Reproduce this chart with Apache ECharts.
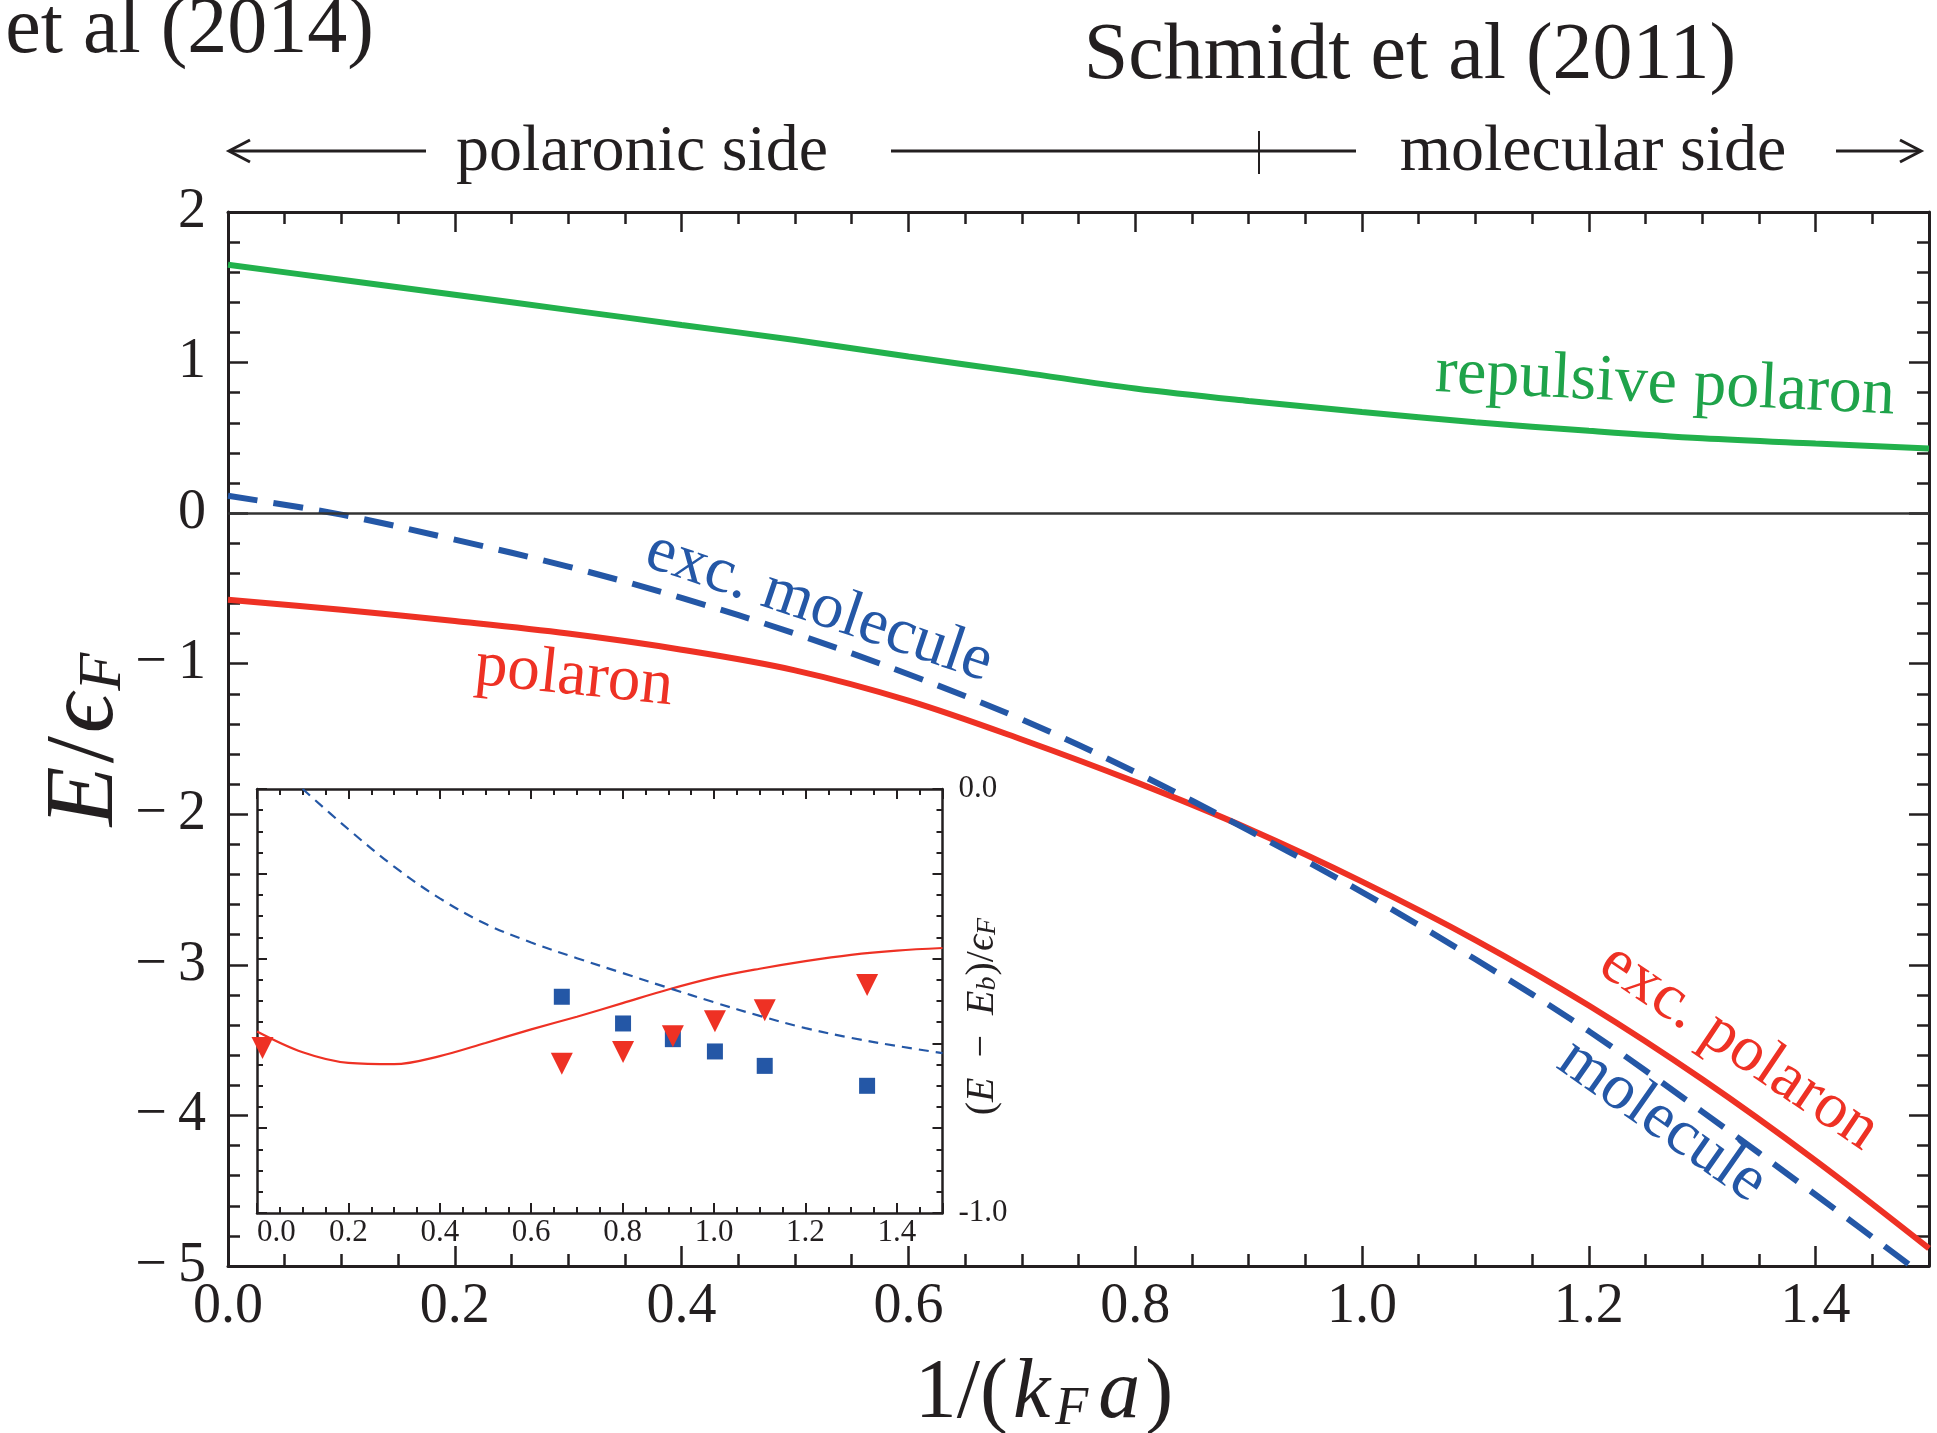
<!DOCTYPE html>
<html>
<head>
<meta charset="utf-8">
<script src="https://cdn.jsdelivr.net/npm/echarts@6/dist/echarts.min.js"></script>
<style>
html,body{margin:0;padding:0;background:#fff;}
#chart{width:1937px;height:1433px;}
</style>
</head>
<body>
<div id="chart"></div>
<script>
// ---------- data ----------
const X_MAIN = [0, 0.1, 0.2, 0.3, 0.4, 0.5, 0.6, 0.7, 0.8, 0.9, 1.0, 1.1, 1.2, 1.3, 1.4, 1.5];
const REPULSIVE_POLARON = [1.65, 1.55, 1.45, 1.35, 1.25, 1.15, 1.04, 0.935, 0.828, 0.745, 0.672, 0.604, 0.547, 0.497, 0.462, 0.43];
const POLARON = [-0.575, -0.642, -0.717, -0.80, -0.907, -1.044, -1.245, -1.503, -1.785, -2.096, -2.447, -2.835, -3.27, -3.76, -4.30, -4.883];
const MOLECULE = [0.115, -0.01, -0.176, -0.355, -0.563, -0.80, -1.07, -1.37, -1.72, -2.107, -2.517, -2.963, -3.44, -3.975, -4.527, -5.09];

const X_INSET = [0, 0.1, 0.2, 0.3, 0.4, 0.5, 0.6, 0.7, 0.8, 0.9, 1.0, 1.1, 1.2, 1.3, 1.4, 1.5];
const INSET_POLARON = [-0.572, -0.621, -0.646, -0.649, -0.630, -0.599, -0.567, -0.537, -0.505, -0.473, -0.445, -0.424, -0.406, -0.391, -0.381, -0.375];
const X_INSET_MOL = [0.1, 0.2, 0.3, 0.4, 0.5, 0.6, 0.7, 0.8, 0.9, 1.0, 1.1, 1.2, 1.3, 1.4, 1.5];
const INSET_MOLECULE = [0.0, -0.095, -0.183, -0.258, -0.318, -0.362, -0.399, -0.434, -0.469, -0.503, -0.535, -0.564, -0.587, -0.606, -0.623];

const SQUARE_X = [0.667, 0.801, 0.910, 1.002, 1.111, 1.335];
const SQUARE_Y = [-0.490, -0.553, -0.590, -0.619, -0.653, -0.700];
const TRIANGLE_X = [0.012, 0.667, 0.801, 0.910, 1.002, 1.111, 1.335];
const TRIANGLE_Y = [-0.611, -0.648, -0.620, -0.583, -0.548, -0.522, -0.462];

const MAIN_X_TICKS = ['0.0', '0.2', '0.4', '0.6', '0.8', '1.0', '1.2', '1.4'];
const INSET_Y_TICKS = ['0.0', '-1.0'];

// ---------- styling ----------
const FONT = "'Liberation Serif', 'Times New Roman', 'DejaVu Serif', serif";
const INK = '#231f20';
const RED = '#ee3124';
const BLUE = '#2457a6';
const GREEN = '#22b14c';
const GREEN_TXT = '#1fa34a';

const zip = (xs, ys) => xs.map((x, i) => [x, ys[i]]);

function mkAxis(o) {
  const a = {
    type: 'value', gridIndex: o.grid, position: o.pos,
    min: o.min, max: o.max, interval: o.interval,
    axisLine: { show: o.line !== false, onZero: false, lineStyle: { color: INK, width: o.lw || 3 } },
    axisTick: { show: true, inside: true, length: o.tick, lineStyle: { color: INK, width: o.tw || 2.5 } },
    axisLabel: { show: false },
    splitLine: { show: false },
    minorTick: { show: false }
  };
  if (o.label) {
    a.axisLabel = {
      show: true, margin: o.margin, fontFamily: FONT, fontSize: o.fs, color: INK,
      formatter: o.formatter, alignMinLabel: o.alignMin
    };
  }
  return a;
}

const mainXFmt = v => { const s = v.toFixed(1); return MAIN_X_TICKS.indexOf(s) >= 0 ? s : ''; };
const mainYFmt = v => v < 0 ? '\u2212\u2009' + Math.round(-v) : String(Math.round(v));
const insetXFmt = v => { const s = v.toFixed(1); return MAIN_X_TICKS.indexOf(s) >= 0 ? s : ''; };
const insetYFmt = v => { const s = v.toFixed(1); return INSET_Y_TICKS.indexOf(s) >= 0 ? s : ''; };

const xAxis = [
  mkAxis({ grid: 0, pos: 'bottom', min: 0, max: 1.5, interval: 0.2, tick: 20, label: true, margin: 13, fs: 56, formatter: mainXFmt }),
  mkAxis({ grid: 0, pos: 'bottom', min: 0, max: 1.5, interval: 0.05, tick: 12, line: false }),
  mkAxis({ grid: 0, pos: 'top', min: 0, max: 1.5, interval: 0.2, tick: 20 }),
  mkAxis({ grid: 0, pos: 'top', min: 0, max: 1.5, interval: 0.05, tick: 12, line: false }),
  mkAxis({ grid: 1, pos: 'bottom', min: 0, max: 1.5, interval: 0.2, tick: 10, lw: 2.5, tw: 2, label: true, margin: 4, fs: 31, formatter: insetXFmt, alignMin: 'left' }),
  mkAxis({ grid: 1, pos: 'bottom', min: 0, max: 1.5, interval: 0.05, tick: 6, tw: 2, line: false }),
  mkAxis({ grid: 1, pos: 'top', min: 0, max: 1.5, interval: 0.2, tick: 10, lw: 2.5, tw: 2 }),
  mkAxis({ grid: 1, pos: 'top', min: 0, max: 1.5, interval: 0.05, tick: 6, tw: 2, line: false })
];
const yAxis = [
  mkAxis({ grid: 0, pos: 'left', min: -5, max: 2, interval: 1, tick: 20, label: true, margin: 22, fs: 56, formatter: mainYFmt }),
  mkAxis({ grid: 0, pos: 'left', min: -5, max: 2, interval: 0.2, tick: 12, line: false }),
  mkAxis({ grid: 0, pos: 'right', min: -5, max: 2, interval: 1, tick: 20 }),
  mkAxis({ grid: 0, pos: 'right', min: -5, max: 2, interval: 0.2, tick: 12, line: false }),
  mkAxis({ grid: 1, pos: 'right', min: -1, max: 0, interval: 0.2, tick: 10, lw: 2.5, tw: 2, label: true, margin: 16, fs: 31, formatter: insetYFmt }),
  mkAxis({ grid: 1, pos: 'right', min: -1, max: 0, interval: 0.05, tick: 6, tw: 2, line: false }),
  mkAxis({ grid: 1, pos: 'left', min: -1, max: 0, interval: 0.2, tick: 10, lw: 2.5, tw: 2 }),
  mkAxis({ grid: 1, pos: 'left', min: -1, max: 0, interval: 0.05, tick: 6, tw: 2, line: false })
];

function label(text, x, y, deg, color, fs) {
  return { type: 'text', x: x, y: y, rotation: -deg * Math.PI / 180, z: 100,
    style: { text: text, fill: color, fontFamily: FONT, fontSize: fs, align: 'center', verticalAlign: 'middle' } };
}
function txt(text, x, y, fs, align) {
  return { type: 'text', x: x, y: y, z: 100,
    style: { text: text, fill: INK, fontFamily: FONT, fontSize: fs, align: align || 'center', verticalAlign: 'middle' } };
}
const lineG = (x1, y1, x2, y2, w) => ({ type: 'line', z: 100, shape: { x1, y1, x2, y2 }, style: { stroke: INK, lineWidth: w || 3 } });
const headG = pts => ({ type: 'polyline', z: 100, shape: { points: pts }, style: { stroke: INK, lineWidth: 3, fill: 'none' } });

function richStyles(fs, subFs, subLh, pad) {
  return {
    n: { fontFamily: FONT, fontSize: fs, lineHeight: fs, fill: INK },
    i: { fontFamily: FONT, fontSize: fs, lineHeight: fs, fontStyle: 'italic', fill: INK },
    ip: { fontFamily: FONT, fontSize: fs, lineHeight: fs, fontStyle: 'italic', fill: INK, padding: [0, pad, 0, pad] },
    np: { fontFamily: FONT, fontSize: fs, lineHeight: fs, fill: INK, padding: [0, 0, 0, pad] },
    s: { fontFamily: FONT, fontSize: subFs, lineHeight: subLh, fontStyle: 'italic', fill: INK, verticalAlign: 'bottom', padding: [0, pad, 0, 0] }
  };
}

const graphic = [
  txt('et al (2014)', 374, 31, 80, 'right'),
  txt('Schmidt et al (2011)', 1410, 57, 80, 'center'),
  lineG(231, 151, 426, 151), headG([[250, 140], [229, 151], [250, 162]]),
  txt('polaronic side', 642, 153, 66, 'center'),
  lineG(891, 151, 1356, 151), lineG(1259, 131, 1259, 174, 2),
  txt('molecular side', 1593, 153, 66, 'center'),
  lineG(1836, 151, 1919, 151), headG([[1900, 140], [1921, 151], [1900, 162]]),
  // axis titles
  { type: 'text', x: 1044, y: 1395, z: 100,
    style: { text: '{n|1/(}{ip|k}{s|F}{ip|a}{n|)}', align: 'center', verticalAlign: 'middle',
      rich: richStyles(84, 54, 42, 5) } },
  { type: 'text', x: 86, y: 738, rotation: Math.PI / 2, z: 100,
    style: { text: '{i|E}{np|/}{ip|\u03F5}{s|F}', align: 'center', verticalAlign: 'middle',
      rich: richStyles(98, 62, 48, 3) } },
  { type: 'text', x: 982, y: 1016, rotation: Math.PI / 2, z: 100,
    style: { text: '{n|(}{i|E}{n|\u2002\u2212\u2002}{i|E}{s|b}{n|)/}{i|\u03F5}{s|F}', align: 'center', verticalAlign: 'middle',
      rich: richStyles(40, 28, 20, 1) } },
  // curve labels
  label('repulsive polaron', 1665, 385, 2.8, GREEN_TXT, 66),
  label('exc. molecule', 819, 607, 18.7, BLUE, 65),
  label('polaron', 574, 677, 6, RED, 65),
  label('exc. polaron', 1739, 1047, 34, RED, 65),
  label('molecule', 1662, 1121, 35, BLUE, 65)
];

const lineCommon = { smooth: 0.35, showSymbol: false, symbol: 'none' };

const option = {
  animation: false,
  backgroundColor: '#fff',
  grid: [
    { left: 228, top: 212, width: 1701, height: 1054, outerBoundsMode: 'none' },
    { left: 257, top: 789, width: 685.5, height: 424, show: true, backgroundColor: '#fff', borderWidth: 0, outerBoundsMode: 'none' }
  ],
  xAxis: xAxis,
  yAxis: yAxis,
  graphic: graphic,
  series: [
    Object.assign({ type: 'line', name: 'repulsive polaron', xAxisIndex: 0, yAxisIndex: 0, data: zip(X_MAIN, REPULSIVE_POLARON),
      lineStyle: { color: GREEN, width: 6 },
      markLine: { silent: true, symbol: 'none', label: { show: false }, lineStyle: { color: '#333', width: 2.5, type: 'solid' }, data: [{ yAxis: 0 }] } }, lineCommon),
    Object.assign({ type: 'line', name: 'polaron', xAxisIndex: 0, yAxisIndex: 0, data: zip(X_MAIN, POLARON),
      lineStyle: { color: RED, width: 6 } }, lineCommon),
    Object.assign({ type: 'line', name: 'molecule', xAxisIndex: 0, yAxisIndex: 0, data: zip(X_MAIN, MOLECULE), clip: true,
      lineStyle: { color: BLUE, width: 6, type: [30, 16] } }, lineCommon),
    Object.assign({ type: 'line', name: 'inset polaron', xAxisIndex: 4, yAxisIndex: 4, data: zip(X_INSET, INSET_POLARON),
      lineStyle: { color: RED, width: 2.2 } }, lineCommon),
    Object.assign({ type: 'line', name: 'inset molecule', xAxisIndex: 4, yAxisIndex: 4, data: zip(X_INSET_MOL, INSET_MOLECULE),
      lineStyle: { color: BLUE, width: 2.2, type: [10, 7] } }, lineCommon),
    { type: 'scatter', name: 'squares', xAxisIndex: 4, yAxisIndex: 4, data: zip(SQUARE_X, SQUARE_Y),
      symbol: 'rect', symbolSize: 16, itemStyle: { color: BLUE, opacity: 1 } },
    { type: 'scatter', name: 'triangles', xAxisIndex: 4, yAxisIndex: 4, data: zip(TRIANGLE_X, TRIANGLE_Y),
      symbol: 'triangle', symbolRotate: 180, symbolSize: [22, 22], itemStyle: { color: RED, opacity: 1 } }
  ]
};

const chart = echarts.init(document.getElementById('chart'), null, { renderer: 'canvas' });
chart.setOption(option);
</script>
</body>
</html>
